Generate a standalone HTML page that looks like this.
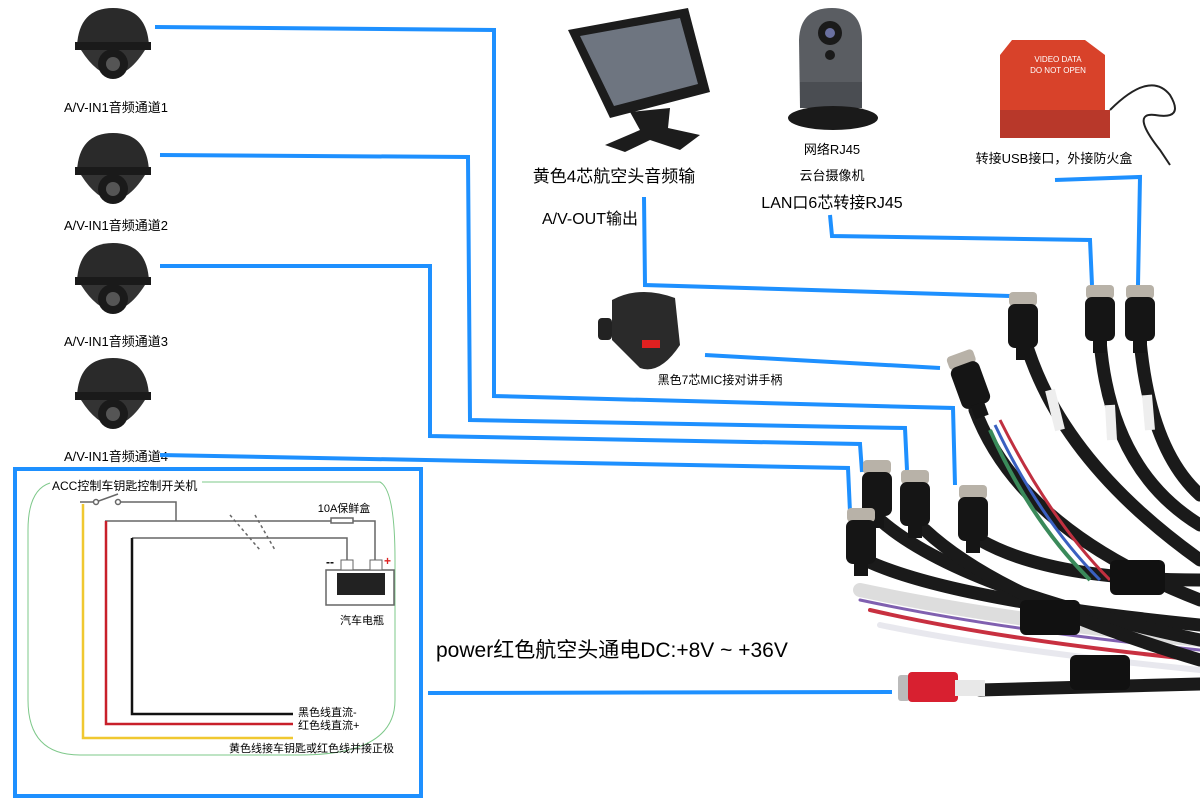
<!DOCTYPE html>
<html><head><meta charset="utf-8"><style>
body{margin:0;background:#fff;width:1200px;height:800px;overflow:hidden;font-family:"Liberation Sans","Noto Sans CJK SC",sans-serif}
</style></head><body>
<svg width="1200" height="800" xmlns="http://www.w3.org/2000/svg" font-family="Liberation Sans, Noto Sans CJK SC, sans-serif">
<defs>
<g id="cam">
<path d="M2,38 Q4,0 38,0 Q72,0 74,38 Z" fill="#2a2a2a"/>
<rect x="0" y="34" width="76" height="8" fill="#1a1a1a"/>
<path d="M6,42 Q38,92 70,42 Z" fill="#333"/>
<circle cx="38" cy="56" r="15" fill="#1a1a1a"/>
<circle cx="38" cy="56" r="7" fill="#555"/>
</g>
<g id="conn"><rect x="1" y="0" width="28" height="14" rx="4" fill="#b8b2a8"/><rect x="0" y="12" width="30" height="44" rx="7" fill="#151515"/><rect x="8" y="54" width="14" height="14" fill="#151515"/></g>
</defs>
<use href="#cam" x="75" y="8"/>
<use href="#cam" x="75" y="133"/>
<use href="#cam" x="75" y="243"/>
<use href="#cam" x="75" y="358"/>
<g font-size="13" fill="#000" text-anchor="middle">
<text x="116" y="112">A/V-IN1音频通道1</text>
<text x="116" y="230">A/V-IN1音频通道2</text>
<text x="116" y="346">A/V-IN1音频通道3</text>
<text x="116" y="461">A/V-IN1音频通道4</text>
</g>
<!-- monitor -->
<path d="M568,30 L688,8 L710,92 L610,118 Z" fill="#1c1c1c"/>
<path d="M580,36 L680,18 L698,84 L614,106 Z" fill="#6e7580"/>
<path d="M630,112 L640,130 L605,145 L625,152 L650,140 L680,150 L700,135 L668,128 L670,108Z" fill="#1c1c1c"/>
<text x="614" y="182" font-size="17" text-anchor="middle">黄色4芯航空头音频输</text>
<text x="590" y="224" font-size="16" text-anchor="middle">A/V-OUT输出</text>
<!-- ptz -->
<path d="M799,40 Q800,8 832,8 Q862,8 862,40 L862,108 L800,108Z" fill="#5a5d62"/>
<circle cx="830" cy="33" r="12" fill="#1a1a1a"/>
<circle cx="830" cy="33" r="5" fill="#6a70a0"/>
<circle cx="830" cy="55" r="5" fill="#1a1a1a"/>
<rect x="800" y="82" width="62" height="26" fill="#4a4d52"/>
<ellipse cx="833" cy="118" rx="45" ry="12" fill="#1a1a1a"/>
<g font-size="13" text-anchor="middle"><text x="832" y="154">网络RJ45</text><text x="832" y="180">云台摄像机</text></g>
<text x="832" y="208" font-size="16" text-anchor="middle">LAN口6芯转接RJ45</text>
<!-- fire box -->
<path d="M1000,55 L1012,40 L1085,40 L1105,55 L1105,118 L1000,118Z" fill="#d8422a"/>
<rect x="1000" y="110" width="110" height="28" fill="#b8382a"/>
<g font-size="8" fill="#fff" text-anchor="middle"><text x="1058" y="62">VIDEO DATA</text><text x="1058" y="73">DO NOT OPEN</text></g>
<path d="M1110,110 Q1150,70 1170,95 Q1185,120 1155,115 Q1130,112 1160,150 L1170,165" stroke="#222" stroke-width="2" fill="none"/>
<text x="1054" y="163" font-size="13" text-anchor="middle">转接USB接口，外接防火盒</text>
<!-- mic -->
<path d="M612,300 Q640,285 675,298 L680,345 Q660,375 640,368 L612,340Z" fill="#2a2a2a"/>
<rect x="598" y="318" width="14" height="22" rx="4" fill="#222"/>
<rect x="642" y="340" width="18" height="8" fill="#e02020"/>
<text x="720" y="384" font-size="12" text-anchor="middle">黑色7芯MIC接对讲手柄</text>
<!-- blue lines -->
<g stroke="#1e90ff" stroke-width="4" fill="none">
<polyline points="155,27 494,30 494,396 953,408 955,485"/>
<polyline points="160,155 468,157 470,420 905,428 907,470"/>
<polyline points="160,266 430,266 430,436 860,444 862,472"/>
<polyline points="160,455 848,468 850,512"/>
<polyline points="644,197 645,285 1010,296"/>
<polyline points="830,215 832,236 1090,240 1092,285"/>
<polyline points="1055,180 1140,177 1138,285"/>
<polyline points="705,355 940,368"/>
<polyline points="428,693 892,692"/>
</g>
<!-- cable bundle -->
<g fill="none" stroke-linecap="round">
<path d="M860,590 Q1000,620 1200,640" stroke="#ddd" stroke-width="14"/>
<path d="M870,610 Q1000,640 1200,660" stroke="#c83040" stroke-width="4"/>
<path d="M860,600 Q1000,630 1200,650" stroke="#8060b0" stroke-width="3"/>
<path d="M880,625 Q1000,650 1200,670" stroke="#e8e8ee" stroke-width="6"/>
</g>
<g stroke="#1a1a1a" stroke-width="13" fill="none" stroke-linecap="round">
<path d="M1025,340 Q1060,460 1200,560"/>
<path d="M1100,340 Q1110,470 1200,525"/>
<path d="M1140,340 Q1150,450 1200,495"/>
<path d="M975,410 Q1020,530 1200,600"/>
<path d="M865,560 Q950,600 1200,625"/>
<path d="M880,520 Q960,590 1200,640"/>
<path d="M925,530 Q1000,600 1200,660"/>
<path d="M980,540 Q1050,580 1200,580"/>
<path d="M980,690 Q1050,688 1200,684"/>
</g>
<g stroke="#eee" stroke-width="10" fill="none">
<path d="M1050,390 L1060,430"/><path d="M1110,405 L1112,440"/><path d="M1147,395 L1150,430"/>
</g>
<path d="M990,430 Q1030,520 1090,580" stroke="#3a8a5a" stroke-width="4" fill="none"/>
<path d="M995,425 Q1040,520 1100,580" stroke="#3a60c0" stroke-width="3" fill="none"/>
<path d="M1000,420 Q1050,520 1110,580" stroke="#c03040" stroke-width="3" fill="none"/>
<rect x="1020" y="600" width="60" height="35" rx="6" fill="#111"/>
<rect x="1110" y="560" width="55" height="35" rx="6" fill="#111"/>
<rect x="1070" y="655" width="60" height="35" rx="6" fill="#111"/>
<use href="#conn" x="1008" y="292"/>
<use href="#conn" x="1085" y="285"/>
<use href="#conn" x="1125" y="285"/>
<use href="#conn" x="950" y="352" transform="rotate(-20 965 370)"/>
<use href="#conn" x="862" y="460"/>
<use href="#conn" x="900" y="470"/>
<use href="#conn" x="958" y="485"/>
<use href="#conn" x="846" y="508"/>
<rect x="898" y="675" width="12" height="26" rx="3" fill="#bbb"/>
<rect x="908" y="672" width="50" height="30" rx="4" fill="#d82030"/>
<rect x="955" y="680" width="30" height="16" fill="#e8e8e8"/>
<text x="436" y="657" font-size="21">power红色航空头通电DC:+8V ~ +36V</text>
<!-- power box -->
<rect x="15" y="469" width="406" height="327" fill="none" stroke="#1e90ff" stroke-width="4"/>
<path d="M202,482 L380,482 Q395,490 395,560 L395,700 Q395,755 300,755 L80,755 Q28,755 28,700 L28,530 Q28,490 50,483" stroke="#7ec88a" fill="none"/>
<text x="52" y="490" font-size="12">ACC控制车钥匙控制开关机</text>
<text x="344" y="512" font-size="11" text-anchor="middle">10A保鲜盒</text>
<g stroke="#666" stroke-width="1.5" fill="none">
<polyline points="80,502 96,502 118,494"/><polyline points="118,502 176,502 176,521"/>
<circle cx="96" cy="502" r="2.5" fill="#fff"/><circle cx="118" cy="502" r="2.5" fill="#fff"/>
<polyline points="105,521 331,521"/><polyline points="353,521 375,521 375,561"/>
<polyline points="132,538 347,538 347,561"/>
<path d="M230,515 L260,550 M255,515 L275,550" stroke-dasharray="3,3"/>
<rect x="331" y="518" width="22" height="5"/>
<rect x="326" y="570" width="68" height="35"/>
</g>
<rect x="341" y="560" width="12" height="10" fill="#fff" stroke="#666"/>
<rect x="370" y="560" width="12" height="10" fill="#fff" stroke="#666"/>
<rect x="337" y="573" width="48" height="22" fill="#222"/>
<text x="326" y="566" font-size="12" font-weight="bold">--</text>
<text x="384" y="565" font-size="12" fill="#d22" font-weight="bold">+</text>
<text x="362" y="624" font-size="11" text-anchor="middle">汽车电瓶</text>
<polyline points="83,504 83,738 293,738" stroke="#f0c830" stroke-width="2.5" fill="none"/>
<polyline points="106,521 106,724 293,724" stroke="#c8202a" stroke-width="2.5" fill="none"/>
<polyline points="132,538 132,714 293,714" stroke="#111" stroke-width="2.5" fill="none"/>
<g font-size="11"><text x="298" y="716">黑色线直流-</text><text x="298" y="729">红色线直流+</text><text x="229" y="752">黄色线接车钥匙或红色线并接正极</text></g>
</svg>
</body></html>
